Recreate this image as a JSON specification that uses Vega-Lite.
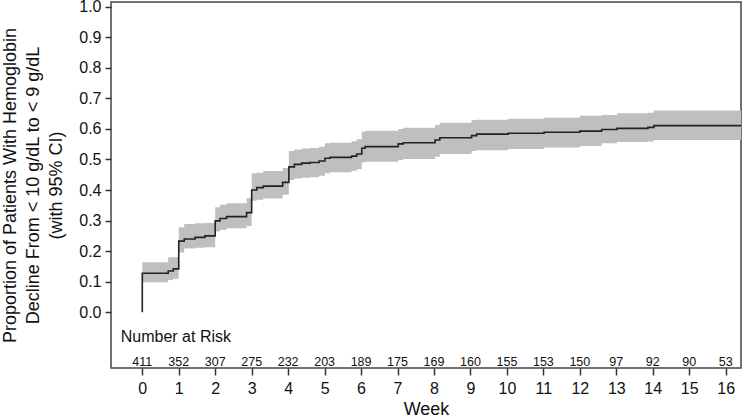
{
  "$schema": "https://vega.github.io/schema/vega-lite/v6.json",
  "width": 630,
  "height": 366,
  "autosize": {"type": "none"},
  "padding": {"left": 111, "top": 2, "right": 1, "bottom": 50},
  "config": {
    "font": "Liberation Sans",
    "view": {"stroke": "#444", "strokeWidth": 1.5},
    "axis": {"grid": false, "domain": false, "tickColor": "#333", "labelColor": "#111", "titleColor": "#111", "titleFontWeight": "normal", "labelFont": "Liberation Sans", "titleFont": "Liberation Sans"}
  },
  "datasets": {
    "km": [
      {"week": 0, "est": 0},
      {"week": 0, "est": 0.128, "lo": 0.098, "hi": 0.164},
      {"week": 0.71, "est": 0.135, "lo": 0.106, "hi": 0.18},
      {"week": 0.85, "est": 0.142, "lo": 0.11, "hi": 0.18},
      {"week": 1.0, "est": 0.233, "lo": 0.196, "hi": 0.278},
      {"week": 1.15, "est": 0.24, "lo": 0.209, "hi": 0.289},
      {"week": 1.45, "est": 0.245, "lo": 0.211, "hi": 0.291},
      {"week": 1.72, "est": 0.25, "lo": 0.213, "hi": 0.292},
      {"week": 2.0, "est": 0.299, "lo": 0.264, "hi": 0.344},
      {"week": 2.13, "est": 0.307, "lo": 0.269, "hi": 0.352},
      {"week": 2.31, "est": 0.313, "lo": 0.275, "hi": 0.357},
      {"week": 2.86, "est": 0.326, "lo": 0.282, "hi": 0.373},
      {"week": 3.0, "est": 0.4, "lo": 0.365, "hi": 0.455},
      {"week": 3.14, "est": 0.408, "lo": 0.368, "hi": 0.457},
      {"week": 3.32, "est": 0.413, "lo": 0.372, "hi": 0.462},
      {"week": 3.85, "est": 0.425, "lo": 0.385, "hi": 0.472},
      {"week": 4.02, "est": 0.476, "lo": 0.433, "hi": 0.528},
      {"week": 4.17, "est": 0.484, "lo": 0.438, "hi": 0.533},
      {"week": 4.37, "est": 0.488, "lo": 0.44, "hi": 0.536},
      {"week": 4.6, "est": 0.49, "lo": 0.442, "hi": 0.538},
      {"week": 4.85, "est": 0.495, "lo": 0.447, "hi": 0.542},
      {"week": 5.01, "est": 0.504, "lo": 0.455, "hi": 0.553},
      {"week": 5.15, "est": 0.507, "lo": 0.458, "hi": 0.555},
      {"week": 5.74, "est": 0.511, "lo": 0.463, "hi": 0.56},
      {"week": 5.88, "est": 0.518, "lo": 0.468, "hi": 0.566},
      {"week": 6.02, "est": 0.537, "lo": 0.49, "hi": 0.591},
      {"week": 6.11, "est": 0.542, "lo": 0.493, "hi": 0.594},
      {"week": 7.02, "est": 0.551, "lo": 0.498, "hi": 0.6},
      {"week": 7.16, "est": 0.555, "lo": 0.502, "hi": 0.604},
      {"week": 8.03, "est": 0.564, "lo": 0.509, "hi": 0.613},
      {"week": 8.16, "est": 0.571, "lo": 0.518, "hi": 0.62},
      {"week": 9.03, "est": 0.578, "lo": 0.528, "hi": 0.629},
      {"week": 9.17, "est": 0.583, "lo": 0.53, "hi": 0.63},
      {"week": 10.04, "est": 0.586, "lo": 0.534, "hi": 0.633},
      {"week": 11.02, "est": 0.589, "lo": 0.539, "hi": 0.637},
      {"week": 12.0, "est": 0.593, "lo": 0.544, "hi": 0.643},
      {"week": 12.6, "est": 0.598, "lo": 0.553, "hi": 0.646},
      {"week": 13.02, "est": 0.602, "lo": 0.557, "hi": 0.651},
      {"week": 13.87, "est": 0.605, "lo": 0.559, "hi": 0.653},
      {"week": 14.03, "est": 0.611, "lo": 0.564, "hi": 0.66},
      {"week": 16.42, "est": 0.611, "lo": 0.564, "hi": 0.66}
    ],
    "risk": [
      {"week": 0, "n": 411}, {"week": 1, "n": 352}, {"week": 2, "n": 307}, {"week": 3, "n": 275},
      {"week": 4, "n": 232}, {"week": 5, "n": 203}, {"week": 6, "n": 189}, {"week": 7, "n": 175},
      {"week": 8, "n": 169}, {"week": 9, "n": 160}, {"week": 10, "n": 155}, {"week": 11, "n": 153},
      {"week": 12, "n": 150}, {"week": 13, "n": 97}, {"week": 14, "n": 92}, {"week": 15, "n": 90},
      {"week": 16, "n": 53}
    ]
  },
  "encoding": {
    "x": {
      "type": "quantitative",
      "scale": {"domain": [-0.858, 16.42], "nice": false, "zero": false},
      "axis": {
        "title": "Week", "values": [0,1,2,3,4,5,6,7,8,9,10,11,12,13,14,15,16],
        "format": "d", "tickSize": 7, "tickWidth": 1.5, "labelFontSize": 16, "labelPadding": 5,
        "titleFontSize": 18, "titlePadding": 4, "labelFlush": false
      }
    },
    "y": {
      "type": "quantitative",
      "scale": {"domain": [-0.1823, 1.0154], "nice": false, "zero": false},
      "axis": {
        "title": ["Proportion of Patients With Hemoglobin", "Decline From < 10 g/dL to < 9 g/dL", "(with 95% CI)"],
        "values": [0, 0.1, 0.2, 0.3, 0.4, 0.5, 0.6, 0.7, 0.8, 0.9, 1.0],
        "format": ".1f", "tickSize": 6, "tickWidth": 1.5, "labelFontSize": 16, "labelPadding": 4,
        "titleFontSize": 18, "titleLineHeight": 23, "titlePadding": 13, "labelFlush": false
      }
    }
  },
  "layer": [
    {
      "data": {"name": "km"},
      "transform": [{"filter": "isValid(datum.lo)"}],
      "mark": {"type": "area", "interpolate": "step-after", "color": "#bfbfbf", "opacity": 1, "clip": true},
      "encoding": {
        "x": {"field": "week"},
        "y": {"field": "hi"},
        "y2": {"field": "lo"}
      }
    },
    {
      "data": {"name": "km"},
      "mark": {"type": "line", "interpolate": "step-after", "color": "#222", "strokeWidth": 1.6, "clip": true},
      "encoding": {
        "x": {"field": "week"},
        "y": {"field": "est"}
      }
    },
    {
      "data": {"name": "risk"},
      "mark": {"type": "text", "fontSize": 12.5, "color": "#111", "baseline": "middle", "align": "center"},
      "encoding": {
        "x": {"field": "week"},
        "y": {"datum": -0.162},
        "text": {"field": "n"}
      }
    },
    {
      "data": {"values": [{}]},
      "mark": {"type": "text", "text": "Number at Risk", "fontSize": 16, "color": "#111", "baseline": "middle", "align": "left"},
      "encoding": {
        "x": {"datum": -0.59},
        "y": {"datum": -0.082}
      }
    }
  ]
}
